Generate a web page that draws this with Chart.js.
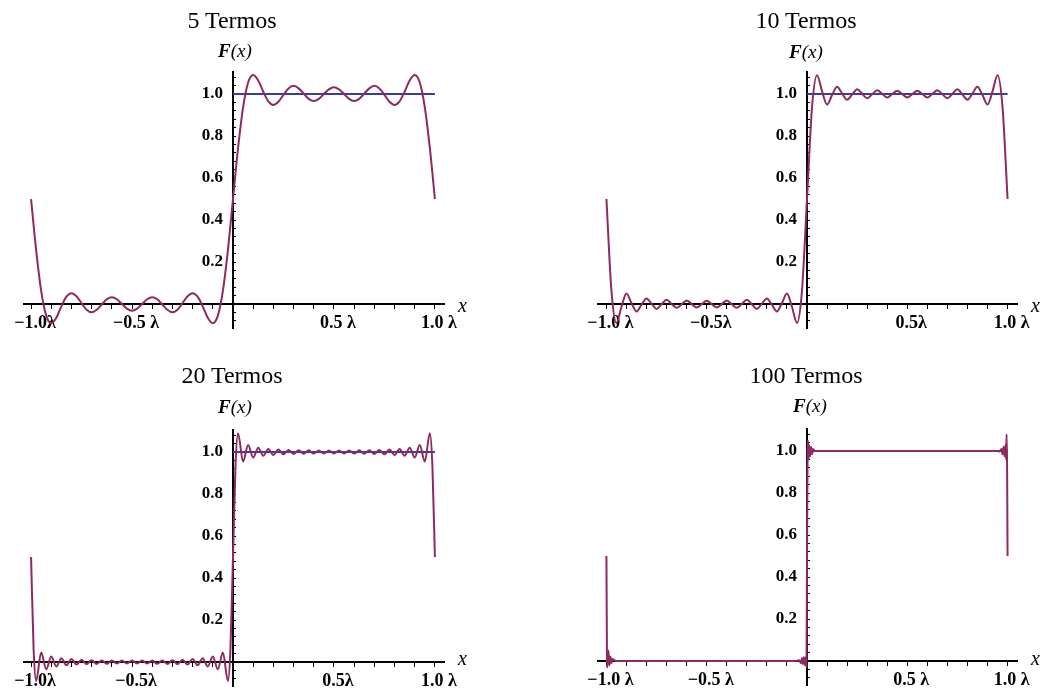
<!DOCTYPE html>
<html>
<head>
<meta charset="utf-8">
<script src="https://cdn.jsdelivr.net/npm/chart.js@4.4.1/dist/chart.umd.min.js"></script>
<style>
  html, body { margin: 0; padding: 0; background: #fff; overflow: hidden; }
  #page { position: relative; width: 1044px; height: 690px; overflow: hidden; }
  canvas { position: absolute; }
  .t { position: absolute; font-family: 'Liberation Serif', serif; line-height: 1; white-space: nowrap; color: #000; }
  .title { font-size: 24px; transform: translateX(-50%); }
  .fx { font-size: 19px; font-style: italic; transform: translateX(-50%); }
  .fx b { font-weight: bold; }
  .xl { font-size: 20px; font-style: italic; }
</style>
</head>
<body>
<div id="page">
  <canvas id="c5" width="480" height="345" style="left:0;top:0"></canvas>
  <canvas id="c10" width="524" height="345" style="left:520px;top:0"></canvas>
  <canvas id="c20" width="480" height="345" style="left:0;top:358px"></canvas>
  <canvas id="c100" width="524" height="345" style="left:520px;top:357px"></canvas>

  <div class="t title" style="left:232px;top:8px">5 Termos</div>
  <div class="t title" style="left:806px;top:8px">10 Termos</div>
  <div class="t title" style="left:232px;top:363px">20 Termos</div>
  <div class="t title" style="left:806px;top:363px">100 Termos</div>

  <div class="t fx" style="left:235px;top:41px"><b>F</b>(x)</div>
  <div class="t fx" style="left:806px;top:42px"><b>F</b>(x)</div>
  <div class="t fx" style="left:235px;top:397px"><b>F</b>(x)</div>
  <div class="t fx" style="left:810px;top:396px"><b>F</b>(x)</div>

  <div class="t xl" style="left:458px;top:295px">x</div>
  <div class="t xl" style="left:1031px;top:295px">x</div>
  <div class="t xl" style="left:458px;top:648px">x</div>
  <div class="t xl" style="left:1031px;top:648px">x</div>
</div>
<script>
// --- ticks ---
const xTicks = [-1, -0.9, -0.8, -0.7, -0.6, -0.5, -0.4, -0.3, -0.2, -0.1,
                0.1, 0.2, 0.3, 0.4, 0.5, 0.6, 0.7, 0.8, 0.9, 1];
const xMajor = [-1, -0.5, 0.5, 1];
const xLabels5 = ['\u22121.0\u03bb', '\u22120.5 \u03bb', '0.5 \u03bb', '1.0 \u03bb'];
const xLabels10 = ['\u22121.0 \u03bb', '\u22120.5\u03bb', '0.5\u03bb', '1.0 \u03bb'];
const xLabels20 = ['\u22121.0\u03bb', '\u22120.5\u03bb', '0.5\u03bb', '1.0 \u03bb'];
const xLabels100 = ['\u22121.0 \u03bb', '\u22120.5 \u03bb', '0.5 \u03bb', '1.0 \u03bb'];

const yTicks = [-0.08, -0.04, 0.04, 0.08, 0.12, 0.16, 0.2, 0.24, 0.28, 0.32, 0.36, 0.4,
                0.44, 0.48, 0.52, 0.56, 0.6, 0.64, 0.68, 0.72, 0.76, 0.8, 0.84, 0.88,
                0.92, 0.96, 1.0, 1.04, 1.08];
const yMajor = [0.2, 0.4, 0.6, 0.8, 1.0];
const yLabels = ['0.2', '0.4', '0.6', '0.8', '1.0'];

// --- curves ---
// grid used by 5 and 10 terms
const xGrid = [-1, -0.975, -0.95, -0.925, -0.9, -0.875, -0.85, -0.825, -0.8, -0.775,
               -0.75, -0.725, -0.7, -0.675, -0.65, -0.625, -0.6, -0.575, -0.55, -0.525,
               -0.5, -0.475, -0.45, -0.425, -0.4, -0.375, -0.35, -0.325, -0.3, -0.275,
               -0.25, -0.225, -0.2, -0.175, -0.15, -0.125, -0.1, -0.075, -0.05, -0.025,
               0, 0.025, 0.05, 0.075, 0.1, 0.125, 0.15, 0.175, 0.2, 0.225,
               0.25, 0.275, 0.3, 0.325, 0.35, 0.375, 0.4, 0.425, 0.45, 0.475,
               0.5, 0.525, 0.55, 0.575, 0.6, 0.625, 0.65, 0.675, 0.7, 0.725,
               0.75, 0.775, 0.8, 0.825, 0.85, 0.875, 0.9, 0.925, 0.95, 0.975, 1];

const f5 = [0.5, 0.258, 0.063, -0.055, -0.091, -0.065, -0.011, 0.035, 0.052, 0.037,
            0.004, -0.027, -0.039, -0.027, -0.002, 0.023, 0.033, 0.023, 0.0, -0.022,
            -0.032, -0.022, 0.0, 0.023, 0.033, 0.023, -0.002, -0.027, -0.039, -0.027,
            0.004, 0.037, 0.052, 0.035, -0.011, -0.065, -0.091, -0.055, 0.063, 0.258,
            0.5, 0.742, 0.937, 1.055, 1.091, 1.065, 1.011, 0.965, 0.948, 0.963,
            0.996, 1.027, 1.039, 1.027, 1.002, 0.977, 0.967, 0.977, 1.0, 1.022,
            1.032, 1.022, 1.0, 0.977, 0.967, 0.977, 1.002, 1.027, 1.039, 1.027,
            0.996, 0.963, 0.948, 0.965, 1.011, 1.065, 1.091, 1.055, 0.937, 0.742, 0.5];

const f10 = [0.5, 0.064, -0.09, -0.013, 0.05, 0.005, -0.035, -0.003, 0.027, 0.002,
             -0.023, -0.001, 0.02, 0.001, -0.018, -0.001, 0.017, 0.0, -0.016, 0.0,
             0.016, 0.0, -0.016, 0.0, 0.017, -0.001, -0.018, 0.001, 0.02, -0.001,
             -0.023, 0.002, 0.027, -0.003, -0.035, 0.005, 0.05, -0.013, -0.09, 0.064,
             0.5, 0.936, 1.09, 1.013, 0.95, 0.995, 1.035, 1.003, 0.973, 0.998,
             1.023, 1.001, 0.98, 0.999, 1.018, 1.001, 0.983, 1.0, 1.016, 1.0,
             0.984, 1.0, 1.016, 1.0, 0.983, 1.001, 1.018, 0.999, 0.98, 1.001,
             1.023, 0.998, 0.973, 1.003, 1.035, 0.995, 0.95, 1.013, 1.09, 0.936, 0.5];

const x20 = [-1, -0.9875, -0.975, -0.95, -0.925, -0.9, -0.875, -0.85, -0.825, -0.8,
             -0.775, -0.75, -0.725, -0.7, -0.675, -0.65, -0.625, -0.6, -0.575, -0.55,
             -0.525, -0.5, -0.475, -0.45, -0.425, -0.4, -0.375, -0.35, -0.325, -0.3,
             -0.275, -0.25, -0.225, -0.2, -0.175, -0.15, -0.125, -0.1, -0.075, -0.05,
             -0.025, -0.0125, 0, 0.0125, 0.025, 0.05, 0.075, 0.1, 0.125, 0.15,
             0.175, 0.2, 0.225, 0.25, 0.275, 0.3, 0.325, 0.35, 0.375, 0.4,
             0.425, 0.45, 0.475, 0.5, 0.525, 0.55, 0.575, 0.6, 0.625, 0.65,
             0.675, 0.7, 0.725, 0.75, 0.775, 0.8, 0.825, 0.85, 0.875, 0.9,
             0.925, 0.95, 0.975, 0.9875, 1];
const f20 = [0.5, 0.064, -0.09, 0.045, -0.034, 0.026, -0.021, 0.018, -0.015, 0.014,
             -0.012, 0.011, -0.01, 0.009, -0.009, 0.008, -0.008, 0.007, -0.007, 0.007,
             -0.007, 0.007, -0.007, 0.007, -0.007, 0.007, -0.008, 0.008, -0.009, 0.009,
             -0.01, 0.011, -0.012, 0.014, -0.015, 0.018, -0.021, 0.026, -0.034, 0.045,
             -0.09, 0.064, 0.5, 0.936, 1.09, 0.955, 1.034, 0.974, 1.021, 0.982,
             1.015, 0.986, 1.012, 0.989, 1.01, 0.991, 1.009, 0.992, 1.008, 0.993,
             1.007, 0.993, 1.007, 0.993, 1.007, 0.993, 1.007, 0.993, 1.008, 0.992,
             1.009, 0.991, 1.01, 0.989, 1.012, 0.986, 1.015, 0.982, 1.021, 0.974,
             1.034, 0.955, 1.09, 0.936, 0.5];

const x100 = [-1, -0.9975, -0.995, -0.99, -0.985, -0.98, -0.975, -0.97, -0.96, -0.95,
              -0.5, -0.06, -0.04, -0.03, -0.025, -0.02, -0.015, -0.01, -0.005, -0.0025,
              0, 0.0025, 0.005, 0.0075, 0.01, 0.015, 0.02, 0.025, 0.03, 0.04,
              0.5, 0.95, 0.96, 0.97, 0.975, 0.98, 0.985, 0.99, 0.9925, 0.995,
              0.9975, 1];
const f100 = [0.5, 0.06, -0.03, 0.05, -0.02, 0.02, -0.01, 0.01, 0.003, 0.0,
              0.0, 0.0, 0.004, -0.01, 0.015, -0.015, 0.018, -0.02, 0.02, -0.03,
              0.5, 0.93, 1.05, 0.96, 1.03, 0.975, 1.02, 0.985, 1.01, 1.0,
              1.0, 1.0, 0.998, 1.01, 0.985, 1.02, 0.975, 1.03, 0.96, 1.08,
              0.94, 0.5];

// reference line F = 1 on (0, 1)
const xRef = [0, 1];
const fRef = [1, 1];

const purple = '#8e2a60';
const blue = '#3a3c9c';

const panels = [
  { id: 'c5', xs: xGrid, ys: f5, labels: xLabels5, xmin: -1.035, xmax: 1.045, pad: { left: 24, right: 36, top: 72, bottom: 17 } },
  { id: 'c10', xs: xGrid, ys: f10, labels: xLabels10, xmin: -1.042, xmax: 1.047, pad: { left: 78, right: 27, top: 72, bottom: 17 } },
  { id: 'c20', xs: x20, ys: f20, labels: xLabels20, xmin: -1.035, xmax: 1.045, pad: { left: 24, right: 36, top: 72, bottom: 17 } },
  { id: 'c100', xs: x100, ys: f100, labels: xLabels100, xmin: -1.042, xmax: 1.047, pad: { left: 78, right: 27, top: 72, bottom: 17 } }
];

function majorIndex(list, v) {
  return list.findIndex(m => Math.abs(m - v) < 1e-6);
}

const serif = "'Liberation Serif', serif";

panels.forEach(p => {
  const ctx = document.getElementById(p.id).getContext('2d');
  new Chart(ctx, {
    type: 'scatter',
    data: {
      datasets: [
        {
          data: p.xs.map((x, i) => ({ x: x, y: p.ys[i] })),
          showLine: true,
          borderColor: purple,
          borderWidth: 2,
          pointRadius: 0,
          cubicInterpolationMode: 'monotone'
        },
        {
          data: xRef.map((x, i) => ({ x: x, y: fRef[i] })),
          showLine: true,
          borderColor: blue,
          borderWidth: 2,
          pointRadius: 0
        }
      ]
    },
    options: {
      responsive: false,
      animation: false,
      layout: { padding: p.pad },
      plugins: { legend: { display: false }, tooltip: { enabled: false } },
      scales: {
        x: {
          type: 'linear',
          min: p.xmin,
          max: p.xmax,
          position: { y: 0 },
          afterBuildTicks: axis => { axis.ticks = xTicks.map(v => ({ value: v })); },
          ticks: {
            autoSkip: false,
            maxRotation: 0,
            padding: 4,
            labelOffset: 4,
            color: '#000',
            font: { family: serif, size: 18, weight: 'bold' },
            callback: v => {
              const i = majorIndex(xMajor, v);
              return i < 0 ? '' : p.labels[i];
            }
          },
          grid: { drawOnChartArea: false, drawTicks: true, tickLength: 4, tickColor: '#000' },
          border: { display: true, color: '#000', width: 2 }
        },
        y: {
          type: 'linear',
          min: -0.114,
          max: 1.105,
          position: { x: 0 },
          afterBuildTicks: axis => { axis.ticks = yTicks.map(v => ({ value: v })); },
          ticks: {
            autoSkip: false,
            padding: 6,
            color: '#000',
            font: { family: serif, size: 17, weight: 'bold' },
            callback: v => {
              const i = majorIndex(yMajor, v);
              // keep a gap between the label and the axis line
              return i < 0 ? '' : yLabels[i] + '\u2002\u200a';
            }
          },
          grid: { drawOnChartArea: false, drawTicks: true, tickLength: -4, tickColor: '#000' },
          border: { display: true, color: '#000', width: 2 }
        }
      }
    }
  });
});
</script>
</body>
</html>
